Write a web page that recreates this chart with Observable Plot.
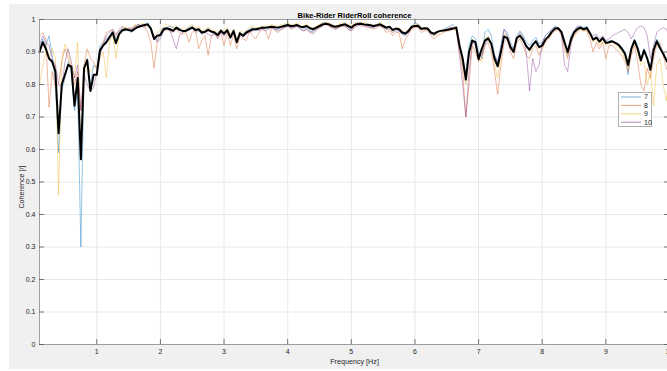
<!DOCTYPE html>
<html>
<head>
<meta charset="utf-8">
<script src="https://cdn.jsdelivr.net/npm/d3@7"></script>
<script src="https://cdn.jsdelivr.net/npm/@observablehq/plot@0.6"></script>
<style>
  html, body { margin: 0; padding: 0; background: #ffffff; width: 667px; height: 371px; overflow: hidden; }
  #fig { position: absolute; left: 9px; top: 4px; width: 660px; height: 365px; background: #f0f0f0; }
  #chart { position: absolute; left: 0; top: 0; width: 672px; }
  #chart svg { max-width: none !important; }
  #legend { position: absolute; left: 618px; top: 92px; }
</style>
</head>
<body>
<div id="fig"></div>
<div id="chart"></div>
<div id="legend"></div>
<script>
// Coherence spectra, one value per 0.05 Hz frequency bin starting at 0.1 Hz
const freqStart = 0.1;
const freqStep = 0.05;

const runs = ["7", "8", "9", "10"];
const runColors = ["#0072BD", "#D95319", "#EDB120", "#7E2F8E"];

const xTicks = [1, 2, 3, 4, 5, 6, 7, 8, 9, 10];
const yTicks = [0, 0.1, 0.2, 0.3, 0.4, 0.5, 0.6, 0.7, 0.8, 0.9, 1];

const run7 = [
  0.91,0.94,0.92,0.95,0.89,0.80,0.59,0.78,0.82,0.87,0.84,0.72,0.78,0.30,0.84,0.88,0.80,0.86,0.85,0.92,
  0.93,0.94,0.95,0.965,0.94,0.96,0.975,0.97,0.965,0.96,0.975,0.985,0.98,0.985,0.99,0.975,0.95,0.935,0.96,0.975,
  0.975,0.98,0.975,0.97,0.975,0.96,0.97,0.975,0.98,0.965,0.97,0.955,0.965,0.975,0.96,0.955,0.95,0.97,0.95,0.97,
  0.94,0.96,0.93,0.95,0.955,0.965,0.97,0.975,0.965,0.97,0.98,0.97,0.975,0.98,0.97,0.97,0.975,0.985,0.98,0.975,
  0.98,0.985,0.975,0.97,0.975,0.965,0.96,0.97,0.98,0.99,0.99,0.985,0.98,0.975,0.98,0.985,0.99,0.975,0.97,0.985,
  0.99,0.99,0.985,0.98,0.98,0.975,0.985,0.99,0.98,0.97,0.975,0.965,0.97,0.965,0.955,0.95,0.96,0.98,0.99,0.985,
  0.97,0.975,0.97,0.955,0.95,0.96,0.965,0.97,0.975,0.98,0.985,0.97,0.92,0.86,0.84,0.92,0.95,0.94,0.90,0.88,
  0.96,0.97,0.95,0.89,0.87,0.92,0.97,0.96,0.93,0.91,0.95,0.965,0.95,0.93,0.92,0.935,0.945,0.925,0.93,0.95,
  0.96,0.97,0.98,0.975,0.965,0.94,0.89,0.95,0.965,0.975,0.98,0.975,0.98,0.96,0.94,0.95,0.93,0.945,0.925,0.935,
  0.935,0.93,0.925,0.915,0.9,0.83,0.915,0.94,0.92,0.88,0.91,0.885,0.85,0.91,0.94,0.92,0.90,0.88,0.87
];

const run8 = [
  0.95,0.96,0.94,0.73,0.84,0.79,0.80,0.87,0.91,0.88,0.85,0.80,0.84,0.72,0.86,0.91,0.88,0.87,0.85,0.90,
  0.93,0.96,0.965,0.97,0.95,0.97,0.98,0.975,0.97,0.975,0.98,0.975,0.985,0.98,0.96,0.93,0.85,0.93,0.955,0.965,
  0.97,0.965,0.96,0.97,0.96,0.955,0.96,0.93,0.96,0.97,0.91,0.935,0.95,0.89,0.95,0.96,0.94,0.96,0.92,0.96,
  0.92,0.955,0.91,0.95,0.94,0.935,0.965,0.95,0.94,0.96,0.97,0.965,0.94,0.975,0.965,0.96,0.97,0.975,0.98,0.97,
  0.975,0.98,0.97,0.965,0.97,0.96,0.955,0.965,0.975,0.98,0.985,0.98,0.975,0.97,0.975,0.98,0.98,0.97,0.965,0.98,
  0.985,0.98,0.98,0.975,0.975,0.97,0.975,0.98,0.975,0.96,0.965,0.95,0.96,0.96,0.91,0.94,0.955,0.97,0.975,0.975,
  0.96,0.965,0.965,0.95,0.94,0.95,0.955,0.96,0.965,0.965,0.97,0.965,0.90,0.84,0.70,0.80,0.92,0.90,0.87,0.88,
  0.92,0.93,0.90,0.84,0.77,0.86,0.93,0.94,0.90,0.88,0.93,0.94,0.92,0.89,0.88,0.91,0.92,0.89,0.91,0.93,
  0.94,0.955,0.965,0.97,0.95,0.91,0.88,0.93,0.95,0.96,0.97,0.965,0.965,0.94,0.90,0.93,0.91,0.93,0.88,0.92,
  0.92,0.91,0.90,0.89,0.87,0.84,0.89,0.92,0.87,0.80,0.78,0.85,0.82,0.88,0.92,0.93,0.89,0.85,0.83
];

const run9 = [
  0.80,0.86,0.90,0.88,0.91,0.88,0.46,0.88,0.925,0.90,0.86,0.82,0.93,0.57,0.83,0.86,0.84,0.85,0.86,0.88,
  0.90,0.82,0.93,0.96,0.88,0.95,0.97,0.975,0.97,0.975,0.985,0.98,0.99,0.985,0.98,0.975,0.95,0.96,0.965,0.98,
  0.985,0.98,0.975,0.98,0.97,0.975,0.97,0.98,0.985,0.975,0.98,0.965,0.97,0.975,0.97,0.965,0.96,0.97,0.965,0.975,
  0.955,0.97,0.94,0.965,0.96,0.965,0.975,0.98,0.975,0.975,0.98,0.98,0.98,0.985,0.98,0.98,0.985,0.985,0.99,0.985,
  0.985,0.99,0.98,0.98,0.985,0.975,0.975,0.98,0.985,0.99,0.99,0.99,0.985,0.98,0.985,0.99,0.99,0.985,0.98,0.99,
  0.99,0.99,0.99,0.985,0.985,0.98,0.985,0.99,0.985,0.97,0.975,0.96,0.97,0.975,0.965,0.96,0.97,0.98,0.985,0.985,
  0.975,0.975,0.975,0.96,0.95,0.955,0.965,0.97,0.97,0.975,0.975,0.98,0.93,0.86,0.80,0.88,0.94,0.93,0.88,0.87,
  0.94,0.95,0.93,0.86,0.82,0.89,0.955,0.95,0.92,0.90,0.945,0.955,0.94,0.915,0.90,0.92,0.935,0.91,0.92,0.94,
  0.95,0.965,0.975,0.975,0.96,0.92,0.89,0.93,0.95,0.965,0.97,0.965,0.97,0.955,0.93,0.94,0.92,0.94,0.92,0.925,
  0.93,0.92,0.915,0.90,0.88,0.85,0.90,0.93,0.90,0.86,0.87,0.80,0.84,0.735,0.86,0.88,0.80,0.75,0.84
];

const run10 = [
  0.92,0.95,0.93,0.92,0.88,0.86,0.80,0.79,0.87,0.91,0.87,0.82,0.86,0.72,0.83,0.80,0.78,0.79,0.84,0.89,
  0.92,0.95,0.96,0.97,0.955,0.965,0.97,0.965,0.975,0.97,0.98,0.985,0.98,0.975,0.985,0.97,0.95,0.93,0.94,0.965,
  0.97,0.965,0.94,0.91,0.95,0.96,0.965,0.97,0.975,0.96,0.965,0.955,0.96,0.955,0.95,0.955,0.945,0.96,0.95,0.965,
  0.945,0.96,0.935,0.955,0.945,0.955,0.96,0.965,0.97,0.965,0.97,0.965,0.97,0.975,0.97,0.965,0.97,0.975,0.98,0.975,
  0.975,0.98,0.97,0.965,0.97,0.96,0.965,0.97,0.975,0.98,0.985,0.98,0.975,0.97,0.975,0.98,0.98,0.97,0.965,0.975,
  0.98,0.985,0.98,0.98,0.975,0.975,0.98,0.98,0.975,0.97,0.97,0.96,0.965,0.965,0.955,0.955,0.96,0.975,0.98,0.985,
  0.975,0.97,0.97,0.96,0.955,0.96,0.965,0.965,0.97,0.975,0.975,0.97,0.89,0.80,0.70,0.84,0.93,0.92,0.89,0.89,
  0.92,0.94,0.93,0.89,0.87,0.91,0.97,0.95,0.92,0.91,0.94,0.96,0.945,0.90,0.78,0.88,0.84,0.86,0.93,0.95,
  0.96,0.97,0.975,0.975,0.96,0.86,0.84,0.92,0.965,0.98,0.975,0.97,0.975,0.96,0.95,0.955,0.94,0.95,0.935,0.94,
  0.95,0.955,0.96,0.965,0.97,0.96,0.94,0.96,0.975,0.98,0.975,0.95,0.88,0.92,0.96,0.97,0.975,0.97,0.95
];

// Average coherence over the runs (thick black curve)
const meanCoh = [
  0.90,0.93,0.91,0.88,0.87,0.84,0.65,0.80,0.83,0.86,0.855,0.735,0.82,0.57,0.85,0.875,0.78,0.83,0.83,0.905,
  0.92,0.93,0.945,0.96,0.927,0.955,0.966,0.97,0.968,0.965,0.972,0.977,0.98,0.983,0.985,0.972,0.94,0.95,0.952,0.97,
  0.973,0.97,0.965,0.975,0.968,0.965,0.965,0.97,0.975,0.968,0.97,0.96,0.962,0.968,0.963,0.96,0.952,0.965,0.957,0.967,
  0.945,0.965,0.93,0.958,0.95,0.96,0.965,0.97,0.97,0.972,0.975,0.975,0.976,0.978,0.976,0.975,0.978,0.98,0.983,0.98,
  0.981,0.983,0.978,0.977,0.98,0.973,0.97,0.975,0.98,0.985,0.987,0.985,0.98,0.978,0.98,0.983,0.985,0.98,0.975,0.983,
  0.986,0.987,0.985,0.984,0.982,0.98,0.982,0.985,0.98,0.975,0.978,0.968,0.972,0.97,0.96,0.957,0.965,0.978,0.98,0.98,
  0.971,0.973,0.972,0.96,0.956,0.962,0.965,0.966,0.968,0.97,0.972,0.975,0.92,0.88,0.815,0.9,0.935,0.93,0.878,0.91,
  0.935,0.942,0.925,0.88,0.856,0.9,0.948,0.943,0.915,0.9,0.943,0.95,0.937,0.918,0.907,0.922,0.933,0.915,0.92,0.938,
  0.948,0.962,0.972,0.973,0.962,0.93,0.9,0.938,0.96,0.97,0.975,0.97,0.974,0.958,0.938,0.944,0.932,0.943,0.928,0.93,
  0.933,0.928,0.922,0.91,0.895,0.86,0.91,0.935,0.91,0.874,0.905,0.88,0.845,0.905,0.933,0.912,0.895,0.875,0.86
];

const binFreq = i => +(freqStart + i * freqStep).toFixed(2);

const runSeries = [run7, run8, run9, run10];
const runRows = runSeries.flatMap((vals, k) =>
  vals.map((c, i) => ({run: runs[k], f: binFreq(i), c})));
const meanRows = meanCoh.map((c, i) => ({f: binFreq(i), c}));

const font = "'Liberation Sans', Arial, Helvetica, sans-serif";
const axisInk = "#262626";

const chart = Plot.plot({
  width: 672,
  height: 371,
  marginLeft: 39,
  marginRight: 3,
  marginTop: 19,
  marginBottom: 27,
  style: {background: "transparent", fontFamily: font, fontSize: "7px", color: axisInk, overflow: "visible", maxWidth: "none"},
  x: {domain: [0.1, 10]},
  y: {domain: [0, 1]},
  color: {domain: runs, range: runColors},
  marks: [
    Plot.frame({fill: "white", stroke: null}),
    Plot.gridX(xTicks, {stroke: "#e2e2e2", strokeOpacity: 1, strokeWidth: 0.8}),
    Plot.gridY(yTicks, {stroke: "#e2e2e2", strokeOpacity: 1, strokeWidth: 0.8}),
    Plot.line(runRows, {x: "f", y: "c", z: "run", stroke: "run", strokeWidth: 0.6, strokeOpacity: 0.7}),
    Plot.line(meanRows, {x: "f", y: "c", stroke: "black", strokeWidth: 2}),
    Plot.frame({stroke: "#8a8a8a", strokeWidth: 0.8}),
    // inward tick marks on all four sides
    Plot.tickX(xTicks, {x: d => d, insetTop: 320, stroke: "#555", strokeWidth: 0.8}),
    Plot.tickX(xTicks, {x: d => d, insetBottom: 320, stroke: "#555", strokeWidth: 0.8}),
    Plot.tickY(yTicks, {y: d => d, insetRight: 625, stroke: "#555", strokeWidth: 0.8}),
    Plot.tickY(yTicks, {y: d => d, insetLeft: 625, stroke: "#555", strokeWidth: 0.8}),
    Plot.axisX(xTicks, {tickSize: 0, tickPadding: 5, label: null, fill: axisInk, fontSize: 7}),
    Plot.axisY(yTicks, {tickSize: 0, tickPadding: 4, label: null, tickFormat: d => String(d), fill: axisInk, fontSize: 7}),
    Plot.text(["Bike-Rider RiderRoll coherence"], {frameAnchor: "top", dy: -7, fontWeight: "bold", fontSize: 7.6, fill: "#000"}),
    Plot.text(["Frequency [Hz]"], {frameAnchor: "bottom", dy: 19, fontSize: 7.2, fill: axisInk}),
    Plot.text(["Coherence [/]"], {frameAnchor: "left", textAnchor: "middle", dx: -18, dy: 5, rotate: -90, fontSize: 7.2, fill: axisInk})
  ]
});
document.getElementById("chart").appendChild(chart);

// legend box: a short sample line and the run name per row
const lg = d3.select("#legend").append("svg")
  .attr("width", 35).attr("height", 36)
  .style("font-family", font).style("font-size", "7px");
lg.append("rect").attr("x", 0.5).attr("y", 0.5).attr("width", 33).attr("height", 34)
  .attr("fill", "#fff").attr("stroke", "#b0b0b0");
const rowsSel = lg.selectAll("g.row").data(runs).join("g")
  .attr("transform", (d, k) => `translate(0, ${5 + k * 8.4})`);
rowsSel.append("line").attr("x1", 3).attr("x2", 23).attr("y1", 0).attr("y2", 0)
  .attr("stroke", (d, k) => runColors[k]).attr("stroke-width", 0.8).attr("stroke-opacity", 0.7);
rowsSel.append("text").attr("x", 26).attr("y", 0).attr("dy", "0.35em")
  .attr("fill", axisInk).text(d => d);
</script>
</body>
</html>
